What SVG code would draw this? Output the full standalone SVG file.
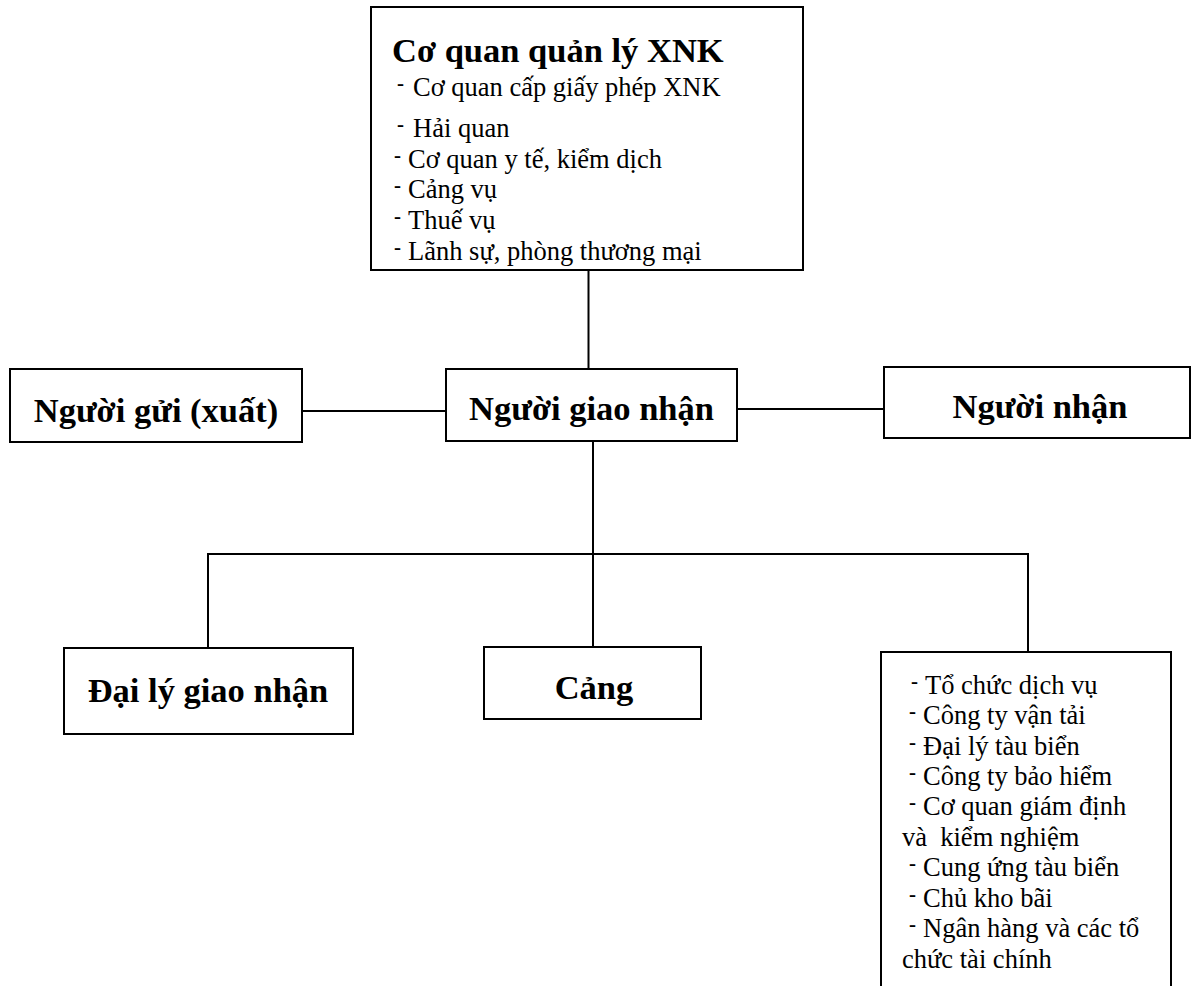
<svg xmlns="http://www.w3.org/2000/svg" width="1195" height="986" viewBox="0 0 1195 986">
<style>
  .box { fill: #ffffff; stroke: #000000; stroke-width: 2; }
  .conn line { stroke: #000000; stroke-width: 2; }
  .h { font-family: "Liberation Serif", "Times New Roman", serif; font-weight: bold; font-size: 34.5px; fill: #000000; }
  .t { font-family: "Liberation Serif", "Times New Roman", serif; font-size: 26.5px; fill: #000000; }
  .d { font-size: 21px; font-weight: bold; }
  .c { text-anchor: middle; }
</style>
<rect width="1195" height="986" fill="#ffffff"/>
<g id="connectors" class="conn">
  <line x1="588.5" y1="270" x2="588.5" y2="369"/>
  <line x1="302" y1="411" x2="446" y2="411"/>
  <line x1="737" y1="409" x2="884" y2="409"/>
  <line x1="593" y1="441" x2="593" y2="647"/>
  <line x1="207" y1="554" x2="1029" y2="554"/>
  <line x1="208" y1="553" x2="208" y2="648"/>
  <line x1="1028" y1="553" x2="1028" y2="652"/>
</g>
<g id="node-coquan">
  <rect class="box" x="371" y="7" width="432" height="263"/>
  <text class="h" x="392" y="62">Cơ quan quản lý XNK</text>
  <text class="t" x="397" y="96"><tspan class="d" dy="-6">- </tspan><tspan x="413" dy="6">Cơ quan cấp giấy phép XNK</tspan></text>
  <text class="t" x="397" y="137"><tspan class="d" dy="-6">- </tspan><tspan x="413" dy="6">Hải quan</tspan></text>
  <text class="t" x="394" y="168"><tspan class="d" dy="-6">- </tspan><tspan x="408" dy="6">Cơ quan y tế, kiểm dịch</tspan></text>
  <text class="t" x="394" y="198"><tspan class="d" dy="-6">- </tspan><tspan x="408" dy="6">Cảng vụ</tspan></text>
  <text class="t" x="394" y="229"><tspan class="d" dy="-6">- </tspan><tspan x="408" dy="6">Thuế vụ</tspan></text>
  <text class="t" x="394" y="260"><tspan class="d" dy="-6">- </tspan><tspan x="408" dy="6">Lãnh sự, phòng thương mại</tspan></text>
</g>
<g id="node-nguoigui">
  <rect class="box" x="10" y="369" width="292" height="73"/>
  <text class="h c" x="156" y="422">Người gửi (xuất)</text>
</g>
<g id="node-nguoigiaonhan">
  <rect class="box" x="446" y="369" width="291" height="72"/>
  <text class="h c" x="591.5" y="420">Người giao nhận</text>
</g>
<g id="node-nguoinhan">
  <rect class="box" x="884" y="367" width="306" height="71"/>
  <text class="h c" x="1040" y="418">Người nhận</text>
</g>
<g id="node-dailygiaonhan">
  <rect class="box" x="64" y="648" width="289" height="86"/>
  <text class="h c" x="208" y="702">Đại lý giao nhận</text>
</g>
<g id="node-cang">
  <rect class="box" x="484" y="647" width="217" height="72"/>
  <text class="h c" x="594" y="699">Cảng</text>
</g>
<g id="node-dichvu">
  <rect class="box" x="881" y="652" width="290" height="360"/>
  <text class="t" x="911" y="694"><tspan class="d" dy="-6">- </tspan><tspan x="925" dy="6">Tổ chức dịch vụ</tspan></text>
  <text class="t" x="909" y="724"><tspan class="d" dy="-6">- </tspan><tspan x="923" dy="6">Công ty vận tải</tspan></text>
  <text class="t" x="909" y="755"><tspan class="d" dy="-6">- </tspan><tspan x="923" dy="6">Đại lý tàu biển</tspan></text>
  <text class="t" x="909" y="785"><tspan class="d" dy="-6">- </tspan><tspan x="923" dy="6">Công ty bảo hiểm</tspan></text>
  <text class="t" x="909" y="815"><tspan class="d" dy="-6">- </tspan><tspan x="923" dy="6">Cơ quan giám định</tspan></text>
  <text class="t" x="902" y="846" xml:space="preserve">và  kiểm nghiệm</text>
  <text class="t" x="909" y="876"><tspan class="d" dy="-6">- </tspan><tspan x="923" dy="6">Cung ứng tàu biển</tspan></text>
  <text class="t" x="909" y="907"><tspan class="d" dy="-6">- </tspan><tspan x="923" dy="6">Chủ kho bãi</tspan></text>
  <text class="t" x="909" y="937"><tspan class="d" dy="-6">- </tspan><tspan x="923" dy="6">Ngân hàng và các tổ</tspan></text>
  <text class="t" x="902" y="968">chức tài chính</text>
</g>
</svg>
